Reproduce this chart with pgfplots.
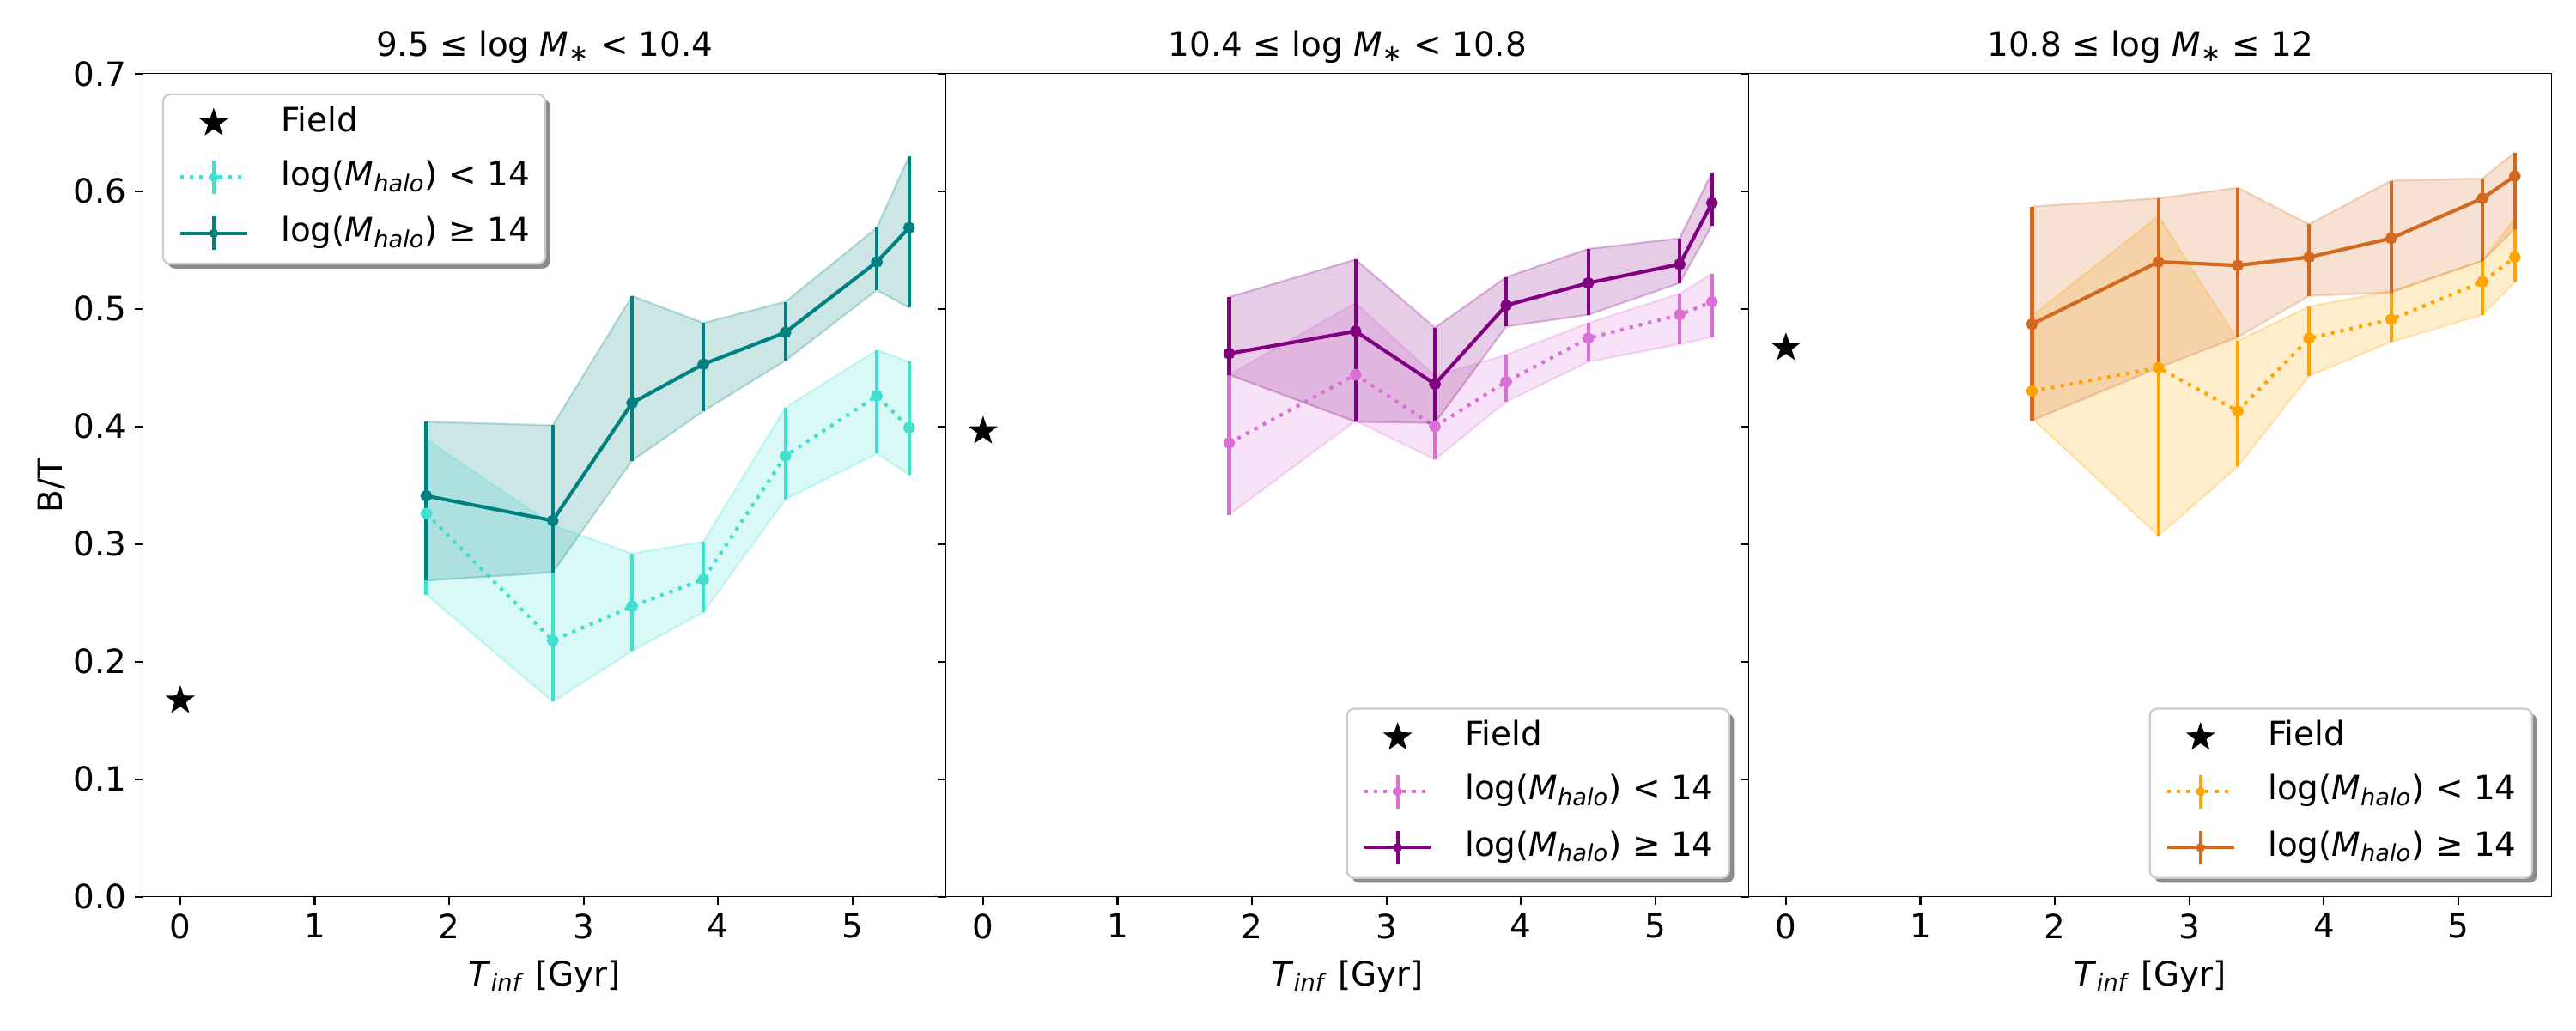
\documentclass[border=0pt]{standalone}
\usepackage{fontspec}
\setmainfont{DejaVu Sans}
\usepackage{pgfplots}
\usepackage{pgfplotstable}
\pgfplotsset{compat=1.18}
\usepgfplotslibrary{fillbetween}
\usetikzlibrary{shadows}

\makeatletter
\tikzset{no preactions/.code={\let\tikz@preactions\pgfutil@empty\let\tikz@postactions\pgfutil@empty}}
\makeatother

\definecolor{turq}{RGB}{64,224,208}
\definecolor{tealc}{RGB}{0,128,128}
\definecolor{orch}{RGB}{218,112,214}
\definecolor{purp}{RGB}{128,0,128}
\definecolor{oran}{RGB}{255,165,0}
\definecolor{choc}{RGB}{210,105,30}

% Panel 1: 9.5 <= log M* < 10.4
\pgfplotstableread{
x y lo hi
1.83 0.326 0.257 0.389
2.77 0.218 0.166 0.316
3.36 0.247 0.209 0.292
3.89 0.270 0.242 0.302
4.50 0.375 0.338 0.416
5.18 0.426 0.377 0.465
5.42 0.399 0.359 0.455
}\pAlow
\pgfplotstableread{
x y lo hi
1.83 0.341 0.269 0.404
2.77 0.320 0.276 0.401
3.36 0.420 0.371 0.511
3.89 0.453 0.413 0.488
4.50 0.480 0.456 0.506
5.18 0.540 0.516 0.569
5.42 0.569 0.501 0.630
}\pAhigh
% Panel 2: 10.4 <= log M* < 10.8
\pgfplotstableread{
x y lo hi
1.83 0.386 0.325 0.444
2.77 0.444 0.405 0.505
3.36 0.400 0.372 0.443
3.89 0.438 0.421 0.461
4.50 0.475 0.455 0.488
5.18 0.495 0.470 0.513
5.42 0.506 0.476 0.530
}\pBlow
\pgfplotstableread{
x y lo hi
1.83 0.462 0.444 0.510
2.77 0.481 0.404 0.542
3.36 0.436 0.403 0.484
3.89 0.503 0.485 0.527
4.50 0.522 0.495 0.551
5.18 0.538 0.522 0.560
5.42 0.590 0.571 0.616
}\pBhigh
% Panel 3: 10.8 <= log M* <= 12
\pgfplotstableread{
x y lo hi
1.83 0.430 0.407 0.494
2.77 0.450 0.307 0.579
3.36 0.413 0.366 0.473
3.89 0.475 0.443 0.502
4.50 0.491 0.472 0.515
5.18 0.523 0.495 0.541
5.42 0.544 0.523 0.577
}\pClow
\pgfplotstableread{
x y lo hi
1.83 0.487 0.405 0.587
2.77 0.540 0.450 0.594
3.36 0.537 0.476 0.603
3.89 0.544 0.511 0.572
4.50 0.560 0.514 0.609
5.18 0.594 0.541 0.611
5.42 0.613 0.568 0.633
}\pChigh

\pgfdeclareplotmark{fstar}{%
\pgfpathmoveto{\pgfpointpolar{90}{\pgfplotmarksize}}%
\pgfpathlineto{\pgfpointpolar{126}{0.4\pgfplotmarksize}}%
\pgfpathlineto{\pgfpointpolar{162}{\pgfplotmarksize}}%
\pgfpathlineto{\pgfpointpolar{198}{0.4\pgfplotmarksize}}%
\pgfpathlineto{\pgfpointpolar{234}{\pgfplotmarksize}}%
\pgfpathlineto{\pgfpointpolar{270}{0.4\pgfplotmarksize}}%
\pgfpathlineto{\pgfpointpolar{306}{\pgfplotmarksize}}%
\pgfpathlineto{\pgfpointpolar{342}{0.4\pgfplotmarksize}}%
\pgfpathlineto{\pgfpointpolar{18}{\pgfplotmarksize}}%
\pgfpathlineto{\pgfpointpolar{54}{0.4\pgfplotmarksize}}%
\pgfpathclose\pgfusepathqfillstroke}

\pgfplotsset{
  panel/.style={
    scale only axis, width=336.6pt, height=345.2pt, anchor=south west,
    xmin=-0.275, xmax=5.695, ymin=0, ymax=0.7,
    xtick={0,1,2,3,4,5}, xticklabels={0,1,2,3,4,5},
    ytick={0,0.1,0.2,0.3,0.4,0.5,0.6,0.7},
    xtick pos=bottom, ytick pos=left,
    tick align=outside, major tick length=3.5pt,
    tick style={line width=0.8pt, black},
    line width=0.8pt,
    title style={anchor=base, yshift=1.5pt},
    xlabel={\textit{T}\textsubscript{\textit{inf}} [Gyr]},
    xlabel style={at={(axis description cs:0.5,0)}, anchor=base, yshift=-37.2pt},
    legend cell align=left,
    legend style={draw=black!20, line width=0.8pt, rounded corners=3pt, fill=white,
      drop shadow={shadow xshift=2pt, shadow yshift=-2pt, fill=black!45, opacity=1},
      inner xsep=6.5pt, inner ysep=5pt, row sep=8pt, column sep=13.5pt,
      nodes={inner sep=0pt, text height=10.5pt, text depth=3.5pt},
      font=\fontsize{14}{16.8}\selectfont},
  },
  band/.style={draw=#1, draw opacity=0.25, line width=0.8pt, forget plot},
  ser/.style={color=#1, line width=1.5pt, mark=*, mark size=1.7pt,
    mark options={solid, fill=#1, draw=#1}, forget plot,
    error bars/y dir=both, error bars/y explicit, error bars/error mark=none,
    error bars/error bar style={solid, line width=1.5pt, color=#1}},
}

\newcommand{\drawgroup}[4]{%
  \addplot[band=#2, name path=#3lo] table[x=x,y=lo]{#1};
  \addplot[band=#2, name path=#3hi] table[x=x,y=hi]{#1};
  \addplot[fill=#2, fill opacity=0.2, draw=none, forget plot] fill between[of=#3lo and #3hi];
  \addplot[ser=#2, #4] table[x=x, y=y, y error plus expr=\thisrow{hi}-\thisrow{y}, y error minus expr=\thisrow{y}-\thisrow{lo}]{#1};
}

\newcommand{\legendentries}[2]{%
  \addlegendimage{legend image code/.code={%
    \tikzset{no preactions}%
    \path[no preactions, draw=none, fill=none] (0pt,0pt) -- (28pt,0pt);
    \path[no preactions, draw=none, fill=black, sharp corners] plot[only marks, mark=fstar, mark size=5.2pt] coordinates {(14pt,0pt)};}}
  \addlegendentry{Field}
  \addlegendimage{legend image code/.code={%
    \tikzset{no preactions}%
    \draw[no preactions, #1, line width=1.5pt, dash pattern=on 1.5pt off 2.5pt] (0pt,0pt) -- (28pt,0pt);
    \draw[no preactions, #1, line width=1.5pt, solid] (14pt,-7pt) -- (14pt,7pt);
    \fill[no preactions, #1, draw=none] (14pt,0pt) circle (1.9pt);}}
  \addlegendentry{log(\textit{M}\textsubscript{\textit{halo}}) < 14}
  \addlegendimage{legend image code/.code={%
    \tikzset{no preactions}%
    \draw[no preactions, #2, line width=1.5pt, solid] (0pt,0pt) -- (28pt,0pt);
    \draw[no preactions, #2, line width=1.5pt, solid] (14pt,-7pt) -- (14pt,7pt);
    \fill[no preactions, #2, draw=none] (14pt,0pt) circle (1.9pt);}}
  \addlegendentry{log(\textit{M}\textsubscript{\textit{halo}}) ≥ 14}
}

\begin{document}
\begin{tikzpicture}[font=\fontsize{14}{16.8}\selectfont]

% Panel 1
\begin{axis}[panel, at={(60.05pt,55.9pt)},
  title={9.5 ≤ log \textit{M}\textsubscript{∗} < 10.4},
  yticklabels={0.0,0.1,0.2,0.3,0.4,0.5,0.6,0.7},
  ylabel={B/T},
  ylabel style={at={(axis description cs:-0.1005,0.5)}, anchor=base},
  legend style={at={(0,1)}, anchor=north west, xshift=7.9pt, yshift=-8.3pt}]
  \legendentries{turq}{tealc}
  \drawgroup{\pAlow}{turq}{pal}{dash pattern=on 1.5pt off 2.5pt}
  \drawgroup{\pAhigh}{tealc}{pah}{solid}
  \addplot[only marks, mark=fstar, mark size=5.2pt, black, fill=black, forget plot] coordinates {(0,0.167)};
\end{axis}

% Panel 2
\begin{axis}[panel, at={(396.65pt,55.9pt)},
  title={10.4 ≤ log \textit{M}\textsubscript{∗} < 10.8},
  yticklabels={},
  legend style={at={(1,0)}, anchor=south east, xshift=-7.9pt, yshift=7.5pt}]
  \legendentries{orch}{purp}
  \drawgroup{\pBlow}{orch}{pbl}{dash pattern=on 1.5pt off 2.5pt}
  \drawgroup{\pBhigh}{purp}{pbh}{solid}
  \addplot[only marks, mark=fstar, mark size=5.2pt, black, fill=black, forget plot] coordinates {(0,0.396)};
\end{axis}

% Panel 3
\begin{axis}[panel, at={(733.25pt,55.9pt)},
  title={10.8 ≤ log \textit{M}\textsubscript{∗} ≤ 12},
  yticklabels={},
  legend style={at={(1,0)}, anchor=south east, xshift=-7.9pt, yshift=7.5pt}]
  \legendentries{oran}{choc}
  \drawgroup{\pClow}{oran}{pcl}{dash pattern=on 1.5pt off 2.5pt}
  \drawgroup{\pChigh}{choc}{pch}{solid}
  \addplot[only marks, mark=fstar, mark size=5.2pt, black, fill=black, forget plot] coordinates {(0,0.467)};
\end{axis}

\pgfresetboundingbox
\path (0,0) rectangle (1080pt,432pt);
\end{tikzpicture}
\end{document}
